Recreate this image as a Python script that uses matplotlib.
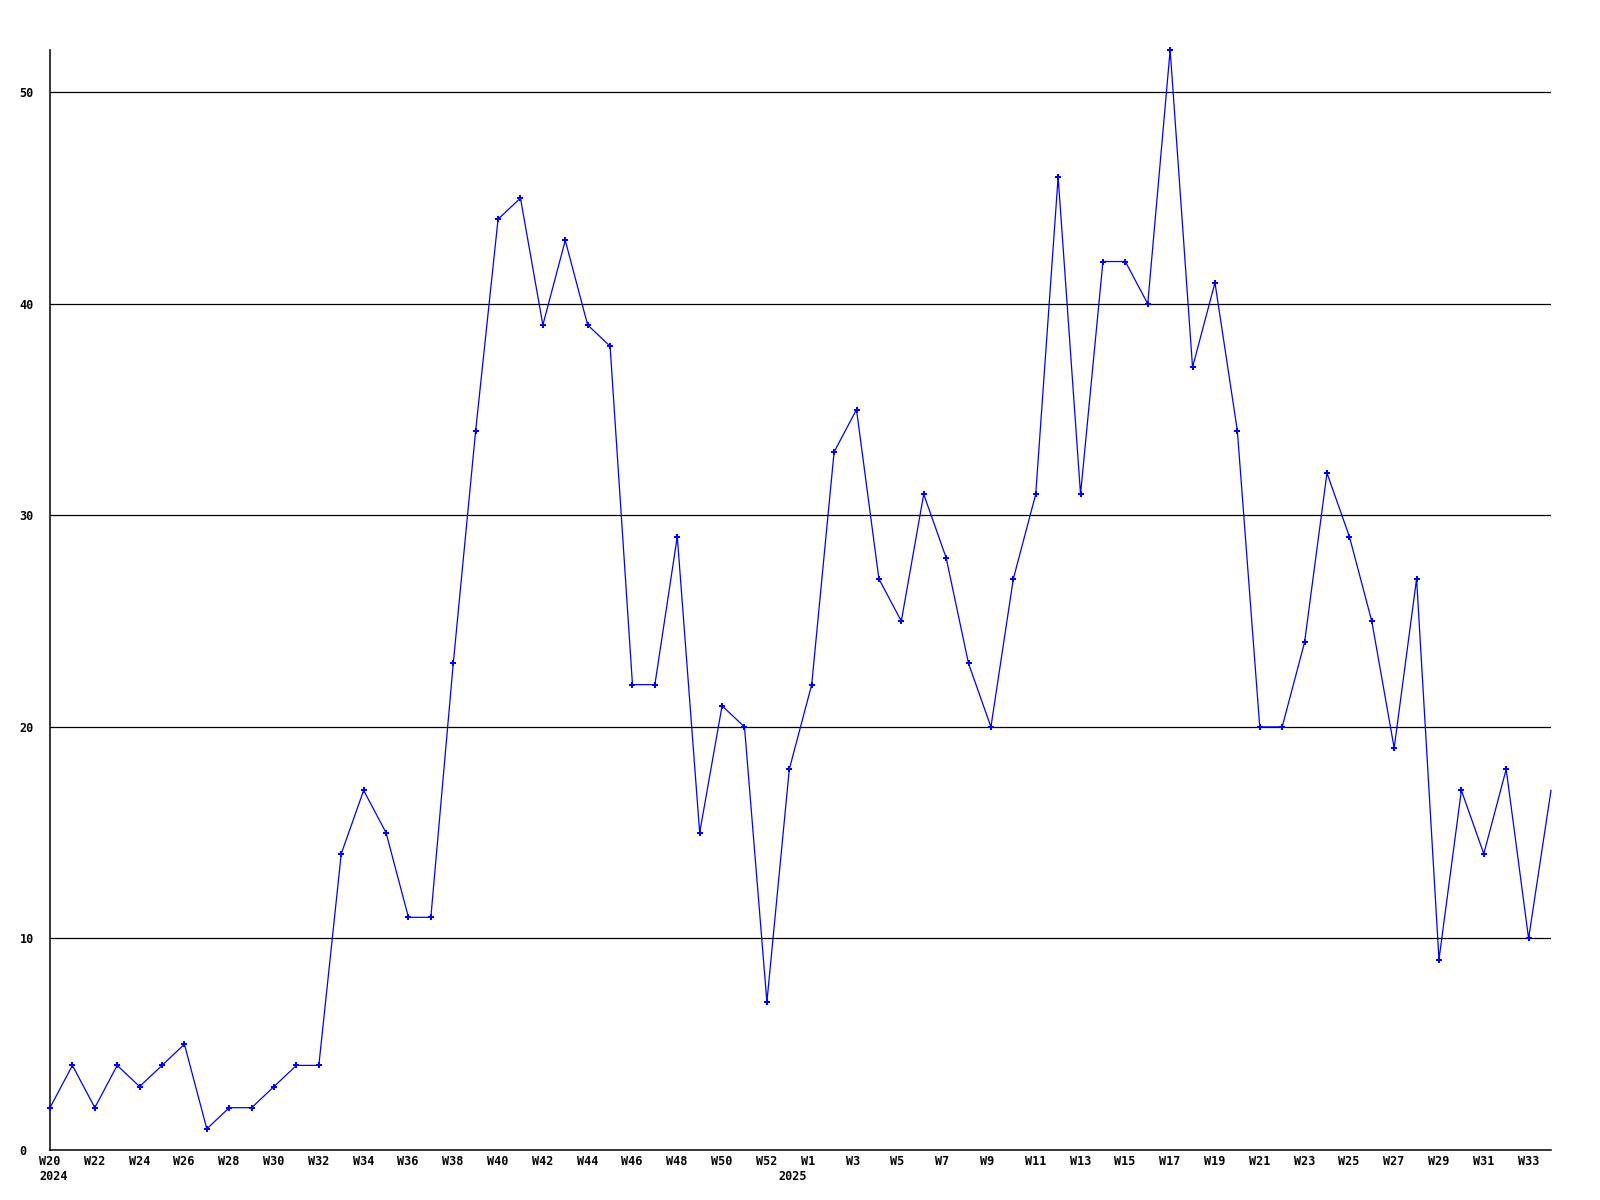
import matplotlib
matplotlib.use("Agg")
import matplotlib.pyplot as plt
import matplotlib.transforms as mtransforms

# weekly counts, W20 2024 .. W34 2025
years = [2024] * 33 + [2025] * 35
weeks = list(range(20, 53)) + list(range(0, 35))
counts = [2, 4, 2, 4, 3, 4, 5, 1, 2, 2,
          3, 4, 4, 14, 17, 15, 11, 11, 23, 34,
          44, 45, 39, 43, 39, 38, 22, 22, 29, 15,
          21, 20, 7,
          18, 22, 33, 35, 27, 25, 31, 28, 23, 20,
          27, 31, 46, 31, 42, 42, 40, 52, 37, 41,
          34, 20, 20, 24, 32, 29, 25, 19, 27, 9,
          17, 14, 18, 10, 17]
yticks = [0, 10, 20, 30, 40, 50]

font = {"family": "DejaVu Sans Mono", "weight": "bold", "size": 8.5}

fig = plt.figure(figsize=(16, 12), dpi=100)
ax = fig.add_axes([50 / 1600, 50 / 1200, 1501 / 1600, 1100 / 1200])

x = list(range(len(counts)))
ax.plot(x, counts, color="#0000ff", lw=0.9, marker="P", markersize=4.5,
        markeredgewidth=0, markevery=list(range(len(counts) - 1)),
        clip_on=False, zorder=3)

ax.set_xlim(0, len(counts) - 1)
ax.set_ylim(0, 52)

for s in ["top", "right"]:
    ax.spines[s].set_visible(False)
for s in ["left", "bottom"]:
    ax.spines[s].set_linewidth(1.1)
    ax.spines[s].set_color("black")

ax.set_yticks(yticks)
for v in yticks[1:]:
    ax.axhline(v, color="black", lw=0.9, zorder=1)
ax.set_yticklabels([str(v) for v in yticks], fontdict=font, ha="left")
ax.tick_params(axis="y", length=0, pad=22)
ax.set_xticks([])

# week labels every other point, year label at first week of each year
off = mtransforms.ScaledTranslation(-11 / 100, 0, fig.dpi_scale_trans)
trans = mtransforms.blended_transform_factory(ax.transData, ax.transAxes) + off
for i in range(0, len(counts), 2):
    ax.text(i, -0.0109, f"W{weeks[i]}", transform=trans, ha="left", va="center",
            **font)
for i, yr in enumerate(years):
    if i == 0 or years[i - 1] != yr:
        ax.text(i, -0.0245, str(yr), transform=trans, ha="left", va="center",
                **font)

fig.savefig("out.png", dpi=100)
